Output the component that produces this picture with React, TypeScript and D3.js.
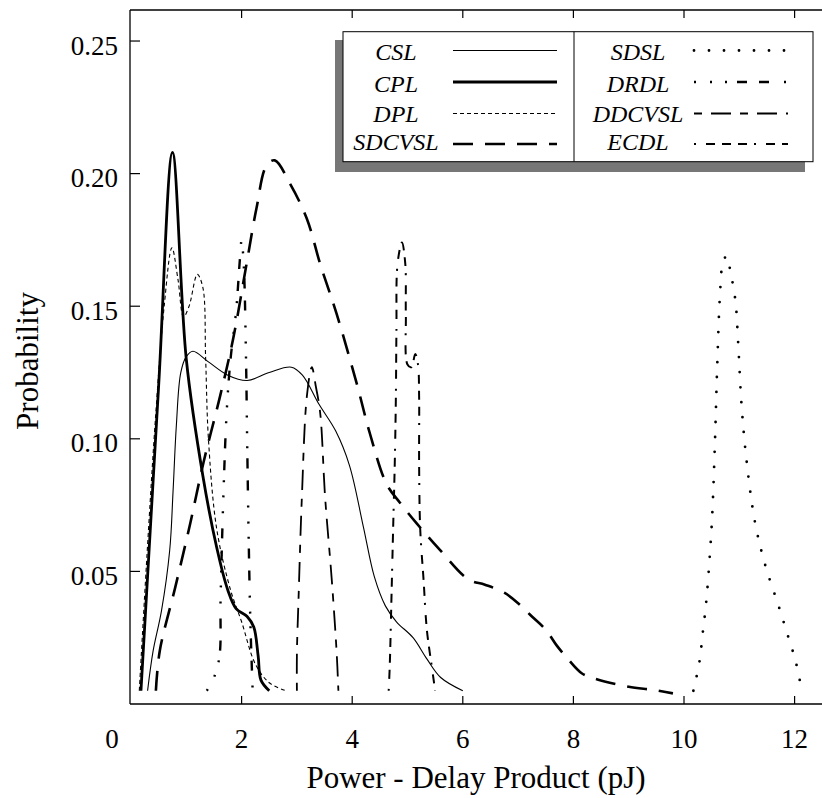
import React from 'react';
import * as d3 from 'd3';

type P = [number, number];

const xTicks = [2, 4, 6, 8, 10, 12];
const yTicks = [0.05, 0.1, 0.15, 0.2, 0.25];
const yTickLabels = ['0.05', '0.10', '0.15', '0.20', '0.25'];

const CSL: P[] = [[0.3,0.005],[0.4,0.02],[0.55,0.035],[0.7,0.058],[0.76,0.08],[0.82,0.105],[0.9,0.125],[1.0,0.131],[1.12,0.133],[1.4,0.129],[1.75,0.124],[2.1,0.122],[2.5,0.125],[2.9,0.127],[3.1,0.124],[3.4,0.113],[3.7,0.103],[3.95,0.09],[4.2,0.067],[4.4,0.048],[4.6,0.037],[4.8,0.031],[5.1,0.025],[5.35,0.017],[5.6,0.01],[6.0,0.005]];
const CPL: P[] = [[0.18,0.005],[0.5,0.12],[0.75,0.208],[1.0,0.13],[1.3,0.086],[1.55,0.059],[1.75,0.043],[1.9,0.036],[2.1,0.033],[2.22,0.029],[2.3,0.018],[2.35,0.009],[2.5,0.005]];
const DPL: P[] = [[0.15,0.005],[0.3,0.06],[0.45,0.11],[0.6,0.15],[0.74,0.172],[0.85,0.16],[0.95,0.146],[1.05,0.15],[1.2,0.162],[1.3,0.157],[1.35,0.13],[1.4,0.1],[1.55,0.066],[1.8,0.043],[2.0,0.031],[2.25,0.015],[2.5,0.008],[2.8,0.005]];
const SDCVSL: P[] = [[0.45,0.005],[0.52,0.02],[0.8,0.044],[1.07,0.068],[1.31,0.091],[1.61,0.116],[1.85,0.138],[2.09,0.166],[2.27,0.187],[2.45,0.203],[2.6,0.205],[2.88,0.196],[3.18,0.183],[3.42,0.166],[3.72,0.147],[4.08,0.121],[4.32,0.102],[4.62,0.083],[4.86,0.076],[5.17,0.068],[5.59,0.058],[6.1,0.047],[6.4,0.045],[6.75,0.042],[7.0,0.038],[7.25,0.033],[7.5,0.028],[7.7,0.022],[7.9,0.017],[8.15,0.0116],[8.4,0.0095],[9.0,0.0065],[9.45,0.0053],[9.8,0.004]];
const SDSL: P[] = [[10.17,0.005],[10.28,0.016],[10.34,0.027],[10.4,0.038],[10.46,0.054],[10.51,0.071],[10.56,0.099],[10.6,0.127],[10.65,0.154],[10.7,0.166],[10.77,0.169],[10.84,0.163],[10.93,0.152],[10.98,0.136],[11.04,0.113],[11.13,0.092],[11.28,0.069],[11.46,0.053],[11.71,0.037],[11.86,0.027],[12.02,0.016],[12.13,0.005]];
const DRDL: P[] = [[1.37,0.005],[1.5,0.01],[1.6,0.018],[1.62,0.04],[1.67,0.078],[1.73,0.11],[1.8,0.13],[1.9,0.148],[1.97,0.168],[2.0,0.175],[2.04,0.165],[2.08,0.13],[2.1,0.1],[2.13,0.06],[2.16,0.03],[2.2,0.005]];
const DDCVSL: P[] = [[3.0,0.005],[3.0,0.019],[3.03,0.04],[3.09,0.078],[3.18,0.116],[3.27,0.127],[3.34,0.12],[3.42,0.11],[3.51,0.078],[3.63,0.047],[3.72,0.019],[3.75,0.005]];
const ECDL: P[] = [[4.66,0.005],[4.68,0.015],[4.71,0.04],[4.74,0.066],[4.77,0.091],[4.79,0.116],[4.8,0.141],[4.82,0.166],[4.9,0.174],[4.96,0.166],[4.97,0.147],[5.0,0.128],[5.07,0.127],[5.14,0.132],[5.19,0.128],[5.21,0.116],[5.21,0.091],[5.23,0.066],[5.29,0.047],[5.35,0.028],[5.44,0.014],[5.5,0.005]];

const leftNames = ['CSL', 'CPL', 'DPL', 'SDCVSL'];
const rightNames = ['SDSL', 'DRDL', 'DDCVSL', 'ECDL'];
const seriesData: Record<string, P[]> = { CSL, CPL, DPL, SDCVSL, SDSL, DRDL, DDCVSL, ECDL };

const styles: Record<string, { w: number; dash?: string; cap?: string }> = {
  CSL: { w: 1.1 },
  CPL: { w: 2.8 },
  DPL: { w: 1.1, dash: '4,3' },
  SDCVSL: { w: 2.6, dash: '20,12' },
  SDSL: { w: 2.8, dash: '0,15', cap: 'round' },
  DRDL: { w: 2.4, dash: '2,14,2,13,2,10,10,12,10,15' },
  DDCVSL: { w: 1.8, dash: '8,9,20,9' },
  ECDL: { w: 2, dash: '2,10,9,7,9,7,9,7' },
};

const serif = "'Liberation Serif', 'Times New Roman', serif";

export default function App() {
  const x = d3.scaleLinear().domain([0, 12.5]).range([131, 822.25]);
  const y = d3.scaleLinear().domain([0, 0.2617]).range([704, 10]);
  const line = d3
    .line<P>()
    .x((d) => x(d[0]))
    .y((d) => y(d[1]))
    .curve(d3.curveCatmullRom.alpha(0.5));

  const x0 = x(0) - 1;
  const yBottom = y(0);
  const yTop = y(0.2617);

  const legendRows = [50.5, 82, 113.5, 144];
  const textBase = [60, 91.5, 121.5, 150];

  return (
    <svg width={822} height={798} style={{ position: 'absolute', left: 0, top: 0, background: '#fff' }}>
      <rect x={0} y={0} width={822} height={798} fill="#fff" />
      {/* frame */}
      <line x1={x0} x2={x0} y1={yTop} y2={yBottom} stroke="#000" strokeWidth={1.3} />
      <line x1={x0} x2={822} y1={yTop} y2={yTop} stroke="#000" strokeWidth={1.3} />
      <line x1={x0} x2={822} y1={yBottom} y2={yBottom} stroke="#000" strokeWidth={1.3} />
      {xTicks.map((t) => (
        <g key={'xt' + t}>
          <line x1={x(t)} x2={x(t)} y1={yBottom} y2={yBottom - 8} stroke="#000" strokeWidth={1.2} />
          <line x1={x(t)} x2={x(t)} y1={yTop} y2={yTop + 8} stroke="#000" strokeWidth={1.2} />
          <text x={x(t)} y={748} textAnchor="middle" fontFamily={serif} fontSize={27}>
            {t}
          </text>
        </g>
      ))}
      <text x={112} y={748} textAnchor="middle" fontFamily={serif} fontSize={27}>
        0
      </text>
      {yTicks.map((t, i) => (
        <g key={'yt' + t}>
          <line x1={x0} x2={x0 + 10} y1={y(t)} y2={y(t)} stroke="#000" strokeWidth={1.2} />
          <text x={118} y={y(t) + 13.5} textAnchor="end" fontFamily={serif} fontSize={27}>
            {yTickLabels[i]}
          </text>
        </g>
      ))}
      <text
        transform="translate(38,361) rotate(-90)"
        textAnchor="middle"
        fontFamily={serif}
        fontSize={31}
      >
        Probability
      </text>
      <text x={476} y={788} textAnchor="middle" fontFamily={serif} fontSize={31}>
        Power - Delay Product (pJ)
      </text>

      {/* curves */}
      <g fill="none" stroke="#000">
        {Object.keys(seriesData).map((k) => (
          <path
            key={k}
            d={line(seriesData[k]) || ''}
            strokeWidth={styles[k].w}
            strokeDasharray={styles[k].dash}
            strokeLinecap={(styles[k].cap as any) || 'butt'}
            strokeLinejoin="round"
          />
        ))}
      </g>

      {/* legend */}
      <rect x={335} y={40} width={470} height={132} fill="#777" />
      <rect x={343} y={31.7} width={470} height={130} fill="#fff" stroke="#000" strokeWidth={1} />
      <line x1={574} x2={574} y1={31.7} y2={161.7} stroke="#000" strokeWidth={1} />
      {leftNames.map((k, i) => (
        <g key={'lg' + k}>
          <text x={396} y={textBase[i]} textAnchor="middle" fontFamily={serif} fontStyle="italic" fontSize={24}>
            {k}
          </text>
          <line
            x1={453}
            x2={557}
            y1={legendRows[i]}
            y2={legendRows[i]}
            stroke="#000"
            strokeWidth={styles[k].w}
            strokeDasharray={styles[k].dash}
            strokeLinecap={(styles[k].cap as any) || 'butt'}
          />
        </g>
      ))}
      {rightNames.map((k, i) => (
        <g key={'lg' + k}>
          <text x={638} y={textBase[i]} textAnchor="middle" fontFamily={serif} fontStyle="italic" fontSize={24}>
            {k}
          </text>
          <line
            x1={694}
            x2={788}
            y1={legendRows[i]}
            y2={legendRows[i]}
            stroke="#000"
            strokeWidth={styles[k].w}
            strokeDasharray={styles[k].dash}
            strokeLinecap={(styles[k].cap as any) || 'butt'}
          />
        </g>
      ))}
    </svg>
  );
}
